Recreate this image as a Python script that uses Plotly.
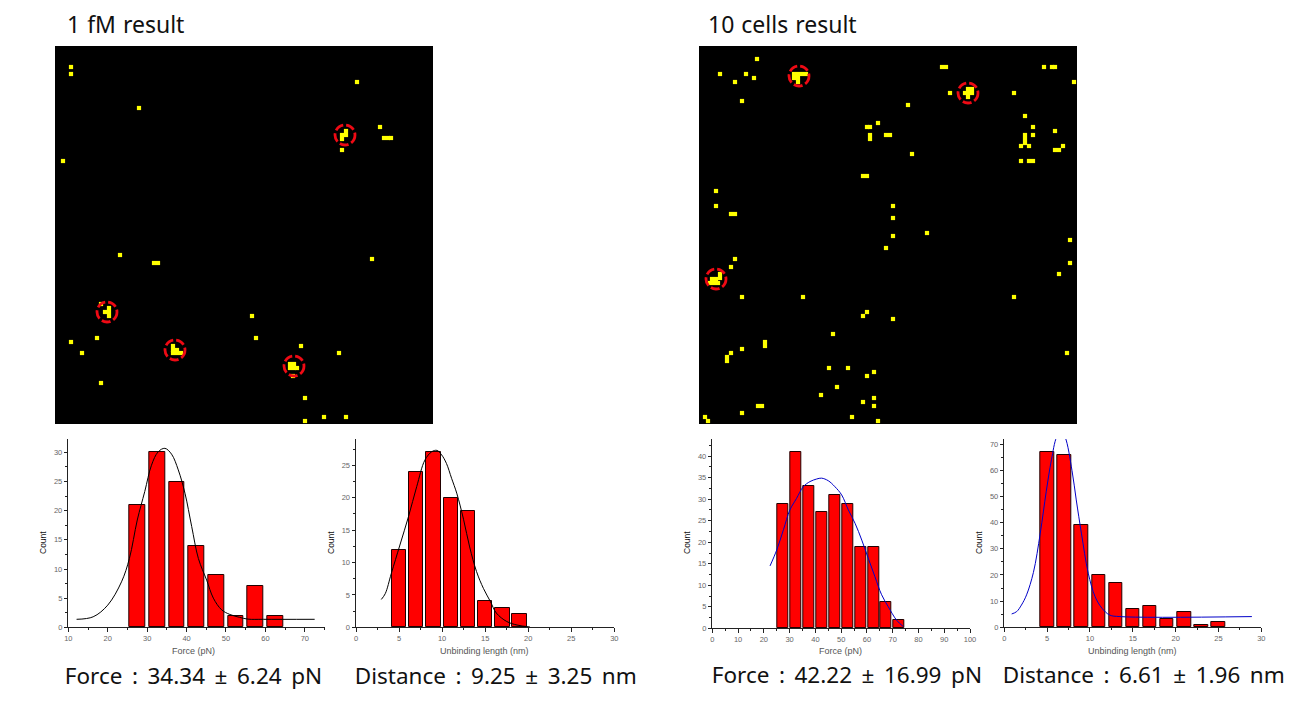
import plotly.graph_objects as go

W, H = 1314, 704

# ---------- map data (position in the 378-unit square scan) ----------
map1_x = [16,16,84,8,302,325,329,333,336,287,291,287,287,291,
          65,99,103,317,46,54,50,54,54,118,118,122,118,122,126,
          235,239,235,239,242,238,197,201,16,42,27,46,246,284,250,250,269,291]
map1_y = [21,28,62,115,36,81,92,92,92,104,85,89,93,89,
          209,217,217,213,258,262,266,266,270,300,304,304,307,307,307,
          318,318,322,322,322,330,270,292,296,292,307,337,300,307,352,375,371,371]
map1_cx = [290,52,120,239]
map1_cy = [89,266,304,320]

map2_x = [58,21,47,55,36,43,95,99,103,107,95,99,99,243,247,345,353,356,375,251,
          266,269,273,269,273,269,315,209,179,168,171,171,171,187,191,213,164,168,
          326,334,334,326,326,326,322,330,356,364,356,360,322,330,334,17,17,32,36,
          194,194,194,228,187,371,371,360,36,32,21,21,13,17,11,15,19,43,104,315,168,164,194,
          134,66,66,43,32,28,28,368,130,149,175,168,138,122,175,164,175,153,179,6,9,43,59,63]
map2_y = [13,28,28,32,36,55,28,28,28,28,32,32,36,21,21,21,21,21,36,47,
          47,43,43,47,47,51,47,59,77,81,81,89,93,89,89,108,130,130,
          70,81,89,89,93,97,100,100,85,100,104,104,115,115,115,145,160,168,168,
          160,172,190,187,202,194,217,228,213,221,228,232,233,233,237,237,237,251,251,251,266,270,273,
          288,296,300,303,307,311,315,307,322,322,326,330,341,349,352,356,360,371,375,371,375,367,360,360]
map2_cx = [100,269,17]
map2_cy = [30,47,233]

# ---------- histogram 1: force, 1 fM ----------
h1_x = [27.5,32.5,37.5,42.5,47.5,52.5,57.5,62.5]
h1_y = [21,30,25,14,9,2,7,2]
c1_x = [12.1,16.3,20,23.5,25.5,27.5,29.4,31.1,32.8,34.5,36.2,37.9,39.6,41.3,43,45.1,46.8,48.9,51,53.5,55.6,59.5,72.5]
c1_y = [1.37,1.8,3.8,7.8,11.8,18.4,23.3,27.8,30.1,30.7,29.7,27,23,17.3,11.8,8.1,5,3,2.2,1.7,1.4,1.37,1.37]
# ---------- histogram 2: distance, 1 fM ----------
h2_x = [5,7,9,11,13,15,17,19]
h2_y = [12,24,27,20,18,4,3,2]
c2_x = [2.94,3.4,4.1,5.1,6.1,7.05,8,8.8,9.4,9.95,10.5,11.1,11.7,12.5,13.2,14,14.8,15.6,16.3,17.5,18.7,20.2]
c2_y = [4.3,5.2,8.3,12.7,17.1,21.7,25.8,27.1,27.3,26.6,25.3,23,20.7,16.6,12.4,8.6,6,4,2.2,0.9,0.35,0.05]
# ---------- histogram 3: force, 10 cells ----------
h3_x = [27.5,32.5,37.5,42.5,47.5,52.5,57.5,62.5,67.5,72.5]
h3_y = [29,41,33,27,31,29,19,19,6,2]
c3_x = [22.4,25,27.6,30.1,32.7,35.3,37.9,40.5,42.4,45,47.6,50.2,52.8,55.4,58,60.5,63.1,65.7,68.3,71.5,74.1]
c3_y = [14.5,18.2,22.9,27.5,30.2,32.9,34.1,34.7,34.9,34.3,32.9,31,27.5,24.4,20.5,16.3,12,7.8,5,1.9,0.4]
# ---------- histogram 4: distance, 10 cells ----------
h4_x = [5,7,9,11,13,15,17,19,21,23,25]
h4_y = [67,66,39,20,17,7,8,3,6,1,2]
c4_x = [0.86,1.44,2,2.6,3.4,4.2,4.9,5.5,6.1,6.6,7.1,7.9,8.4,9,9.8,10.6,11.4,12.3,13.5,28.9]
c4_y = [5.1,6,8.5,12.4,21,36,52,64,72.7,75,72.7,60,48.7,36,20.7,11.7,7.3,4.7,4.1,4.1]

titles = ["1 fM result", "10 cells result"]
captions = ["Force : 34.34 ± 6.24 pN", "Distance : 9.25 ± 3.25 nm",
            "Force : 42.22 ± 16.99 pN", "Distance : 6.61 ± 1.96 nm"]

fig = go.Figure()
layout = dict(width=W, height=H, margin=dict(l=0, r=0, t=0, b=0, pad=0), autosize=False,
              paper_bgcolor="white", plot_bgcolor="white", showlegend=False,
              font=dict(family="Liberation Sans"))
shapes, annos = [], []

def fx(p): return p / W
def fy(p): return 1 - p / H

def text(t, x, y, size, color="#111", anchor="left", angle=0, family="Noto Sans"):
    annos.append(dict(text=t, x=fx(x), y=fy(y), xref="paper", yref="paper", showarrow=False,
                      xanchor=anchor, yanchor="middle", textangle=angle,
                      font=dict(size=size, color=color, family=family)))

def add_map(i, x0, y0, xs, ys, cxs, cys):
    s = str(i)
    layout["xaxis" + s] = dict(domain=[fx(x0), fx(x0 + 378)], range=[0, 378], visible=False,
                               anchor="y" + s, fixedrange=True, automargin=False)
    layout["yaxis" + s] = dict(domain=[fy(y0 + 378), fy(y0)], range=[378, 0], visible=False,
                               anchor="x" + s, fixedrange=True, automargin=False)
    shapes.append(dict(type="rect", xref="paper", yref="paper", x0=fx(x0), x1=fx(x0 + 378),
                       y0=fy(y0 + 378), y1=fy(y0), fillcolor="black", line_width=0, layer="below"))
    fig.add_trace(go.Scatter(x=xs, y=ys, mode="markers", xaxis="x" + s, yaxis="y" + s,
                             marker=dict(symbol="square", size=4.2, color="#ffff00", line_width=0)))
    for cx, cy in zip(cxs, cys):
        shapes.append(dict(type="circle", xref="x" + s, yref="y" + s, x0=cx - 10, x1=cx + 10,
                           y0=cy - 10, y1=cy + 10, line=dict(color="#ee0a14", width=2.8, dash="9px,3px")))

def add_hist(i, px0, px1, ptop, pbot, xr, yr, dx, dy, bx, by, bw, cx, cy, ccol):
    s = str(i)
    tickfont = dict(size=7.5, color="#666", family="Liberation Sans")
    common = dict(showline=True, linecolor="#222", linewidth=1, ticks="outside", ticklen=3.5,
                  tickcolor="#222", tickwidth=1, showgrid=False, zeroline=False, tickfont=tickfont,
                  fixedrange=True, automargin=False)
    layout["xaxis" + s] = dict(domain=[fx(px0), fx(px1)], range=xr, anchor="y" + s, dtick=dx, tick0=0,
                               minor=dict(dtick=dx / 2, tick0=0, ticks="outside", ticklen=2, tickcolor="#222"),
                               **common)
    layout["yaxis" + s] = dict(domain=[fy(pbot), fy(ptop)], range=yr, anchor="x" + s, dtick=dy, tick0=0,
                               minor=dict(dtick=dy / 2, tick0=0, ticks="outside", ticklen=2, tickcolor="#222"),
                               **common)
    fig.add_trace(go.Bar(x=bx, y=by, width=bw, xaxis="x" + s, yaxis="y" + s,
                         marker=dict(color="#ff0000", line=dict(color="#200", width=1))))
    fig.add_trace(go.Scatter(x=cx, y=cy, mode="lines", xaxis="x" + s, yaxis="y" + s,
                             line=dict(color=ccol, width=1, shape="spline")))

add_map(1, 55, 46, map1_x, map1_y, map1_cx, map1_cy)
add_map(2, 699, 46, map2_x, map2_y, map2_cx, map2_cy)
add_hist(3, 68.3, 325.3, 439, 627.3, [10, 75.2], [0, 32.3], 10, 5, h1_x, h1_y, 4.0, c1_x, c1_y, "#000")
add_hist(4, 356, 614.3, 439, 627.3, [0, 30], [0, 29.06], 5, 5, h2_x, h2_y, 1.66, c2_x, c2_y, "#000")
add_hist(5, 712.3, 970, 439, 628.3, [0, 100], [0, 44], 10, 5, h3_x, h3_y, 4.3, c3_x, c3_y, "#0000c8")
add_hist(6, 1004.3, 1261.3, 439, 627.3, [0, 30], [0, 72], 5, 10, h4_x, h4_y, 1.56, c4_x, c4_y, "#0000c8")

text(titles[0], 66, 24, 23)
text(titles[1], 707, 24, 23)
text(captions[0], 72, 675, 22.5)
text(captions[1], 362, 675, 22.5)
text(captions[2], 719, 674, 22.5)
text(captions[3], 1010, 674, 22.5)

for x, lab in [(193, "Force (pN)"), (484, "Unbinding length (nm)"), (840, "Force (pN)"), (1132, "Unbinding length (nm)")]:
    text(lab, x, 651, 9, color="#555", anchor="center", family="Liberation Sans")
for x in [43, 331, 687, 979]:
    text("Count", x, 543, 8.5, color="#111", anchor="center", angle=-90, family="Liberation Sans")

layout["shapes"] = shapes
layout["annotations"] = annos
layout["bargap"] = 0
fig.update_layout(**layout)
css = ("text.annotation-text[style*='font-size: 22.5px']{word-spacing:3.7px}"
       "text.annotation-text[style*='font-size: 23px']{word-spacing:1px}")
fig.write_html("out.html", config=dict(displayModeBar=False),
               post_script="document.body.style.margin='0';document.documentElement.style.overflow='hidden';"
                           "var st=document.createElement('style');st.textContent=\"" + css + "\";document.head.appendChild(st);")
